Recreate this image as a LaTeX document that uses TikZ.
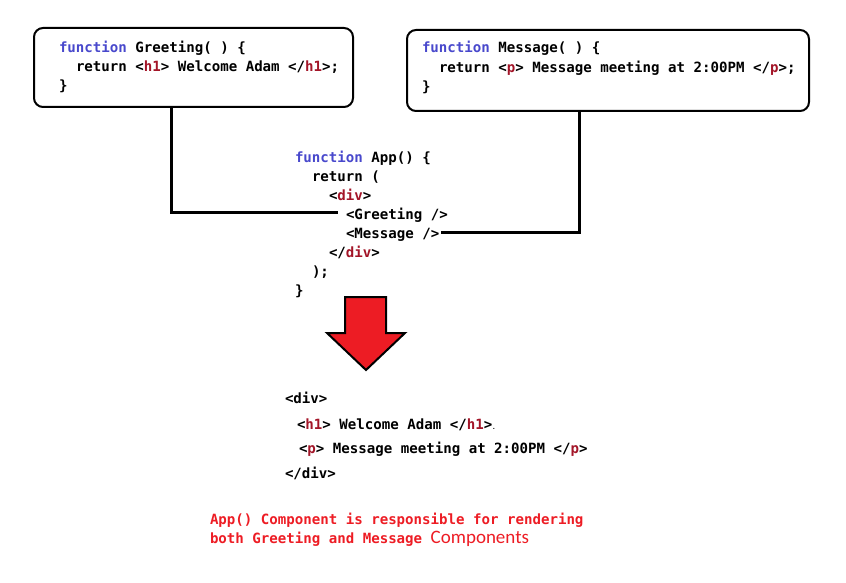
\documentclass[tikz,border=0pt]{standalone}
\usepackage{fontspec}
\setmonofont{DejaVu Sans Mono}
\newfontfamily\calfont{Carlito}
\usetikzlibrary{positioning}
\definecolor{kwblue}{RGB}{72,72,204}
\definecolor{tagred}{RGB}{163,21,40}
\definecolor{notered}{RGB}{237,28,36}
\newcommand{\kw}[1]{\textcolor{kwblue}{#1}}
\newcommand{\tg}[1]{\textcolor{tagred}{#1}}

\begin{document}
\begin{tikzpicture}[x=1pt, y=-1pt,
   every node/.style={inner sep=0pt, outer sep=0pt},
   codeline/.style={anchor=base west, font=\ttfamily\bfseries\fontsize{14.1}{19}\selectfont},
   codebox/.style={draw, line width=2pt, rounded corners=9pt, anchor=north west},
   wire/.style={draw, line width=3pt},
   note/.style={codeline, text=notered}]

\useasboundingbox (0,0) rectangle (846,583);

% component boxes
\node[codebox, minimum width=319pt, minimum height=79pt] (greetBox) at (34,28) {};
\node[codebox, minimum width=402pt, minimum height=81pt] (msgBox) at (407,30) {};

\node[codeline] (greet1) at (59,53) {\kw{function} Greeting( ) \{};
\node[codeline] (greet2) at (76,72) {return <\tg{h1}> Welcome Adam </\tg{h1}>;};
\node[codeline] (greet3) at (59,91) {\}};

\node[codeline] (msg1) at (422,53) {\kw{function} Message( ) \{};
\node[codeline] (msg2) at (439,73) {return <\tg{p}> Message meeting at 2:00PM </\tg{p}>;};
\node[codeline] (msg3) at (422,92) {\}};

% App component
\node[codeline] (app1) at (295,163) {\kw{function} App() \{};
\node[codeline] (app2) at (312,181) {return (};
\node[codeline] (app3) at (329,200) {<\tg{div}>};
\node[codeline] (appGreeting) at (346,219) {<Greeting />};
\node[codeline] (appMessage) at (346,238) {<Message />};
\node[codeline] (app6) at (329,257) {</\tg{div}>};
\node[codeline] (app7) at (312,276) {);};
\node[codeline] (app8) at (295,295) {\}};

\draw[wire] (greetBox.south west) ++(137,0) |- ([shift={(-8,-7)}]appGreeting.base west);
\draw[wire] (msgBox.south west) ++(172,0) |- ([shift={(2,-6)}]appMessage.base east);

% render arrow
\draw[line width=2pt, fill=notered, line join=miter]
   (345,297) -- (386,297) -- (386,333) -- (405,333) -- (366,370)
   -- (327,333) -- (345,333) -- cycle;

% rendered output
\node[codeline] (out1) at (285,403) {<div>};
\node[codeline] (out2) at (297,429) {<\tg{h1}> Welcome Adam </\tg{h1}>{\fontsize{6}{6}\selectfont.}};
\node[codeline] (out3) at (299,453) {<\tg{p}> Message meeting at 2:00PM </\tg{p}>};
\node[codeline] (out4) at (285,478) {</div>};

% note
\node[note] (note1) at (210,524) {App() Component is responsible for rendering};
\node[note] (note2) at (210,543) {both Greeting and Message {\calfont\mdseries\fontsize{19}{19}\selectfont Components}};

\end{tikzpicture}
\end{document}
